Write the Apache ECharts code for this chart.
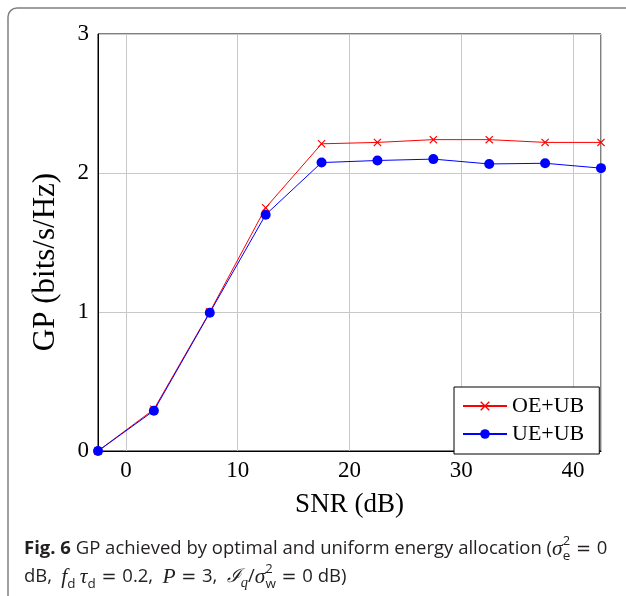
<!DOCTYPE html>
<html>
<head>
<meta charset="utf-8">
<script src="https://cdn.jsdelivr.net/npm/echarts@6/dist/echarts.min.js"></script>
<style>
  html, body { margin: 0; padding: 0; background: #fff; }
  #chart { width: 626px; height: 596px; }
</style>
</head>
<body>
<div id="chart"></div>
<script>
// SNR sample points (dB)
const snrDb = [-2.5, 2.5, 7.5, 12.5, 17.5, 22.5, 27.5, 32.5, 37.5, 42.5];
// GP (bits/s/Hz) with optimal energy allocation
const gpOptimal = [0, 0.30, 1.00, 1.75, 2.21, 2.22, 2.24, 2.24, 2.22, 2.22];
// GP (bits/s/Hz) with uniform energy allocation
const gpUniform = [0, 0.29, 0.995, 1.70, 2.075, 2.09, 2.10, 2.065, 2.07, 2.035];
const seriesNames = ['OE+UB', 'UE+UB'];
const xTitle = 'SNR (dB)';
const yTitle = 'GP (bits/s/Hz)';

const serif = '"Liberation Serif", "Times New Roman", serif';
const sans = '"Open Sans", "Noto Sans", sans-serif';

// filled "x" glyph used as the marker of the optimal-allocation curve
const crossPath = 'path://M0,1 L1,0 L5,4 L9,0 L10,1 L6,5 L10,9 L9,10 L5,6 L1,10 L0,9 L4,5 Z';

const pair = (xs, ys) => xs.map((x, i) => [x, ys[i]]);

const ink = '#231f20';
const capBase = { fontFamily: sans, fontSize: 18.5, lineHeight: 28, fill: ink };
const captionRich = {
  b:   { fontFamily: sans, fontSize: 18.5, fontWeight: 'bold', lineHeight: 28, fill: ink },
  m:   { fontFamily: serif, fontSize: 21.5, fontStyle: 'italic', lineHeight: 28, fill: ink },
  eq:  { fontFamily: '"DejaVu Sans", sans-serif', fontSize: 18, lineHeight: 28, fill: ink },
  sp:  { fontFamily: sans, fontSize: 18.5, lineHeight: 28, fill: ink },
  cal: { fontFamily: '"DejaVu Serif", serif', fontSize: 19, fontStyle: 'italic', lineHeight: 28, fill: ink },
  sup: { fontFamily: sans, fontSize: 13, lineHeight: 16, verticalAlign: 'top', width: 0.1, fill: ink },
  sub: { fontFamily: sans, fontSize: 13.5, lineHeight: 15, verticalAlign: 'bottom', fill: ink },
  subi:{ fontFamily: serif, fontSize: 14.5, fontStyle: 'italic', lineHeight: 15, verticalAlign: 'bottom', fill: ink }
};
// math "=" with the spacing of typeset equations
const EQ = '{eq| = }';

const chart = echarts.init(document.getElementById('chart'), null, { renderer: 'canvas' });

chart.setOption({
  backgroundColor: '#ffffff',
  animation: false,
  grid: {
    left: 98, top: 34, width: 503, height: 417,
    show: true, borderColor: '#000', borderWidth: 1, backgroundColor: 'transparent'
  },
  legend: {
    data: seriesNames,
    orient: 'vertical',
    left: 454, top: 387,
    padding: [8, 15, 9, 8],
    itemWidth: 44, itemHeight: 12, itemGap: 6,
    borderColor: '#000', borderWidth: 1, borderRadius: 0,
    backgroundColor: '#fff',
    textStyle: { fontFamily: serif, fontSize: 22, color: '#000', lineHeight: 20 }
  },
  xAxis: {
    type: 'value',
    min: -2.5, max: 42.5,
    splitNumber: 5,
    name: xTitle,
    nameLocation: 'middle',
    nameGap: 40,
    nameTextStyle: { fontFamily: serif, fontSize: 27, color: '#000' },
    axisLine: { show: true, onZero: false, lineStyle: { color: '#000', width: 1 } },
    axisTick: { show: false },
    axisLabel: {
      fontFamily: serif, fontSize: 23, color: '#000', margin: 8,
      showMinLabel: false, showMaxLabel: false,
      formatter: v => (Math.abs(v % 10) < 1e-9 ? String(v) : '')
    },
    splitLine: { show: true, lineStyle: { color: '#c8c8c8', width: 1 } }
  },
  yAxis: {
    type: 'value',
    min: 0, max: 3, interval: 1,
    axisLine: { show: true, onZero: false, lineStyle: { color: '#000', width: 1 } },
    axisTick: { show: false },
    axisLabel: { fontFamily: serif, fontSize: 23, color: '#000', margin: 9 },
    splitLine: { show: true, lineStyle: { color: '#c8c8c8', width: 1 } }
  },
  series: [
    {
      name: seriesNames[0],
      type: 'line',
      data: pair(snrDb, gpOptimal),
      clip: false,
      symbol: crossPath,
      symbolSize: 8,
      lineStyle: { color: '#ff0000', width: 1 },
      itemStyle: { color: '#ff0000' },
      z: 3
    },
    {
      name: seriesNames[1],
      type: 'line',
      data: pair(snrDb, gpUniform),
      clip: false,
      symbol: 'circle',
      symbolSize: 10,
      lineStyle: { color: '#0000ff', width: 1 },
      itemStyle: { color: '#0000ff' },
      z: 4
    }
  ],
  graphic: [
    {
      // figure frame (only its top and left edges fall inside the page)
      type: 'rect',
      shape: { x: 8, y: 8, width: 800, height: 800, r: 9 },
      style: { fill: 'none', stroke: '#808080', lineWidth: 1.5 },
      silent: true
    },
    {
      type: 'text',
      x: 46, y: 262,
      rotation: Math.PI / 2,
      style: {
        text: yTitle,
        fontFamily: serif, fontSize: 31, fill: '#000',
        textAlign: 'center', textVerticalAlign: 'middle'
      }
    },
    {
      type: 'text',
      x: 24, y: 535,
      style: Object.assign({}, capBase, {
        text: '{b|Fig. 6} GP achieved by optimal and uniform energy allocation ({m|σ}{sup|2}{sub|e}' + EQ + '0\n' +
              'dB,{sp|\u2002}{m|f}{sub|d}{m|\u2009τ}{sub|d}' + EQ + '0.2,{sp|\u2002}{m|P}' + EQ + '3,{sp|\u2002}' +
              '{cal|ℐ}{subi|q}/{m|σ}{sup|2}{sub|w}' + EQ + '0 dB)',
        rich: captionRich
      })
    }
  ]
});
</script>
</body>
</html>
